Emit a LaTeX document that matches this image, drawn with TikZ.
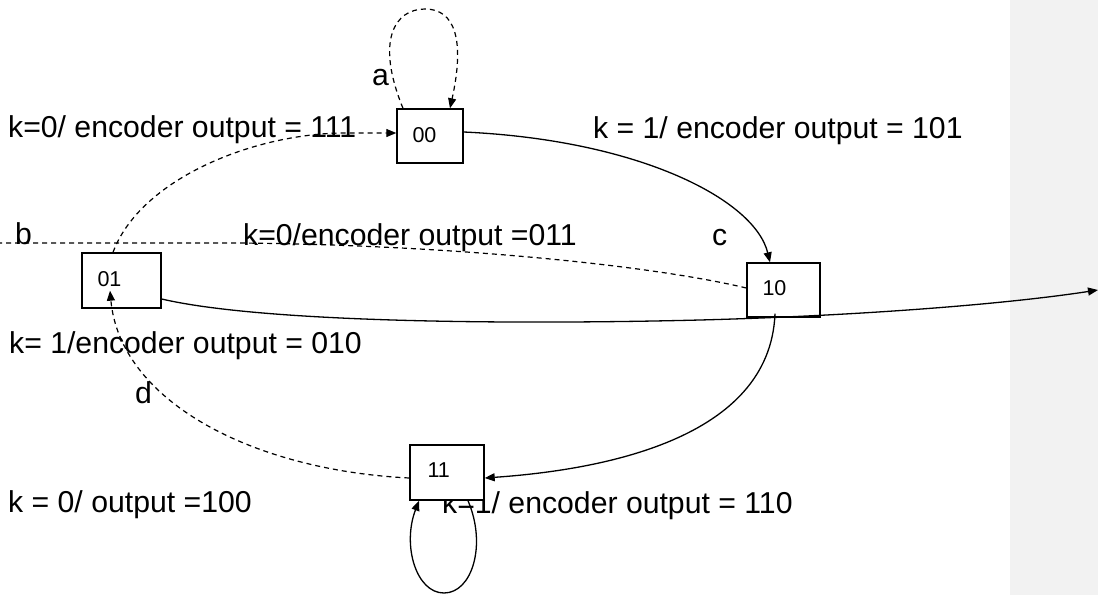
\documentclass[tikz,border=0pt]{standalone}
\usepackage{fontspec}
\setmainfont{Liberation Sans}
\usetikzlibrary{arrows.meta,calc}
\definecolor{panelgray}{HTML}{F2F2F2}

\tikzset{
  statebox/.style={draw=black, fill=white, line width=1.4pt, inner sep=0pt},
  statetxt/.style={anchor=west, inner sep=0pt, font=\fontsize{21.5}{24}\selectfont},
  edgelbl/.style={anchor=base west, inner sep=0pt, font=\fontsize{30.2}{35}\selectfont},
  solidedge/.style={draw=black, line width=1.3pt},
  dashedge/.style={draw=black, line width=1.2pt, dash pattern=on 5pt off 4pt},
  tip/.style={-{Triangle[length=10pt,width=8pt]}}
}

\begin{document}
\begin{tikzpicture}[x=1pt, y=-1pt]
  % page and side panel
  \fill[white] (0,0) rectangle (1098,595);
  \fill[panelgray] (1010,0) rectangle (1098,595);
  \useasboundingbox (0,0) rectangle (1098,595);

  % transition labels
  \node[edgelbl] (l111) at (8,137) {k=0/ encoder output = 111};
  \node[edgelbl] (l101) at (593,138) {k = 1/ encoder output = 101};
  \node[edgelbl] (l011) at (243,245) {k=0/encoder output =011};
  \node[edgelbl] (l010) at (9,353) {k= 1/encoder output = 010};
  \node[edgelbl] (l100) at (8,512) {k = 0/ output =100};
  \node[edgelbl] (l110) at (442,513) {k=1/ encoder output = 110};
  \node[edgelbl] (la) at (372,85) {a};
  \node[edgelbl] (lb) at (15,244) {b};
  \node[edgelbl] (lc) at (712,245) {c};
  \node[edgelbl] (ld) at (135,403) {d};

  % states
  \node[statebox, minimum width=66pt, minimum height=54pt] (b00) at (430,136) {};
  \node[statebox, minimum width=79pt, minimum height=55pt] (b01) at (121.5,280.5) {};
  \node[statebox, minimum width=73pt, minimum height=54pt] (b10) at (783.5,290) {};
  \node[statebox, minimum width=74pt, minimum height=55pt] (b11) at (447,472.5) {};
  \node[statetxt] (t00) at ([xshift=16pt,yshift=1pt]b00.west) {00};
  \node[statetxt] (t01) at ([xshift=16pt,yshift=1.5pt]b01.west) {01};
  \node[statetxt] (t10) at ([xshift=16pt,yshift=2pt]b10.west) {10};
  \node[statetxt] (t11) at ([xshift=18pt,yshift=2.5pt]b11.west) {11};

  % free ends
  \coordinate (exitL) at (0,243);
  \coordinate (exitR) at (1098,290);

  % solid transitions
  \draw[solidedge, tip] ([yshift=4pt]b00.east)
    .. controls (640,140) and (755,200) .. ([xshift=-13.5pt]b10.north);
  \draw[solidedge, tip] ([xshift=-8.5pt,yshift=4pt]b10.south)
    .. controls (770,440) and (600,470) .. ([yshift=-5.5pt]b11.east);
  \draw[solidedge, tip] ([yshift=-18.5pt]b01.east)
    .. controls (260,322) and (500,325) .. (700,320)
    .. controls (850,316) and (1000,305) .. (exitR);
  \draw[solidedge, tip] ([xshift=21pt]b11.south)
    .. controls (487,545) and (472,593) .. (444,593)
    .. controls (416,593) and (402,545) .. ([xshift=-28pt]b11.south);

  % dashed transitions
  \draw[dashedge, tip] ([xshift=-27pt]b00.north)
    .. controls (375,40) and (395,9) .. (425,9)
    .. controls (455,9) and (465,40) .. ([xshift=20pt]b00.north);
  \draw[dashedge, tip] ([xshift=-8.5pt]b01.north)
    .. controls (140,180) and (250,135) .. (340,133) -- ([yshift=3pt]b00.west);
  \draw[dashedge] ([yshift=2pt]b10.west)
    .. controls (650,265) and (450,245) .. (240,243) -- (exitL);
  \draw[dashedge, tip] ([yshift=-5.5pt]b11.west)
    .. controls (250,470) and (120,400) .. ([xshift=-11.5pt,yshift=18pt]b01.south);
\end{tikzpicture}
\end{document}
